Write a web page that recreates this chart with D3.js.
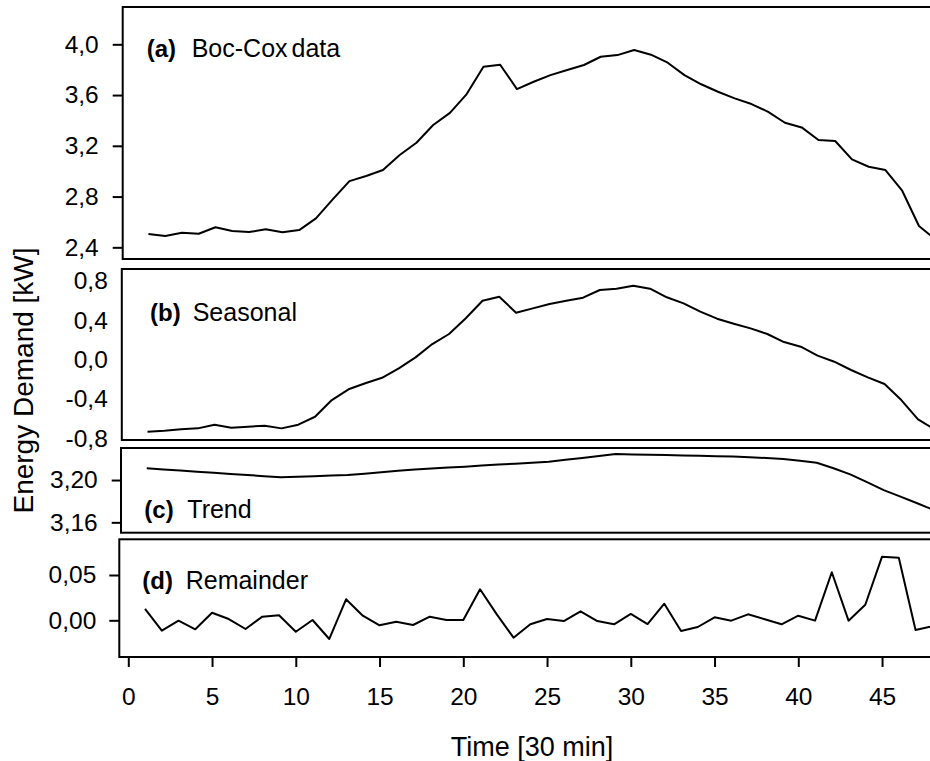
<!DOCTYPE html>
<html>
<head>
<meta charset="utf-8">
<script src="https://cdn.jsdelivr.net/npm/d3@7/dist/d3.min.js"></script>
<style>
body { margin: 0; background: #fff; }
svg { display: block; font-family: "Liberation Sans", Arial, sans-serif; }
</style>
</head>
<body>
<div id="chart-area"></div>
<script>
// time index (30 min steps)
var time = [1, 2, 3, 4, 5, 6, 7, 8, 9, 10, 11, 12, 13, 14, 15, 16, 17, 18, 19, 20, 21, 22, 23, 24,
	25, 26, 27, 28, 29, 30, 31, 32, 33, 34, 35, 36, 37, 38, 39, 40, 41, 42, 43, 44, 45, 46, 47, 48];

var boxcox = [2.505, 2.489, 2.515, 2.507, 2.558, 2.528, 2.520, 2.542, 2.518, 2.536, 2.628, 2.778,
	2.922, 2.962, 3.009, 3.128, 3.224, 3.364, 3.460, 3.608, 3.823, 3.839, 3.647, 3.705,
	3.757, 3.797, 3.837, 3.902, 3.915, 3.955, 3.918, 3.855, 3.757, 3.685, 3.626, 3.574,
	3.529, 3.468, 3.382, 3.345, 3.246, 3.238, 3.093, 3.035, 3.009, 2.846, 2.568, 2.460];

var seasonal = [-0.731, -0.721, -0.707, -0.697, -0.660, -0.690, -0.680, -0.670, -0.697, -0.660, -0.579, -0.410,
	-0.301, -0.240, -0.184, -0.088, 0.023, 0.158, 0.260, 0.419, 0.597, 0.638, 0.476, 0.520,
	0.564, 0.597, 0.628, 0.706, 0.719, 0.750, 0.719, 0.632, 0.571, 0.486, 0.415, 0.364,
	0.317, 0.260, 0.178, 0.131, 0.040, -0.021, -0.105, -0.180, -0.247, -0.410, -0.605, -0.710];

var trend = [3.2111, 3.2100, 3.2090, 3.2079, 3.2069, 3.2058, 3.2047, 3.2037, 3.2026, 3.2031, 3.2036, 3.2042,
	3.2047, 3.2060, 3.2073, 3.2087, 3.2100, 3.2110, 3.2118, 3.2126, 3.2137, 3.2148, 3.2155, 3.2164,
	3.2173, 3.2191, 3.2209, 3.2228, 3.2246, 3.2242, 3.2238, 3.2236, 3.2233, 3.2230, 3.2226, 3.2222,
	3.2216, 3.2208, 3.2199, 3.2183, 3.2164, 3.2112, 3.2054, 3.1980, 3.1905, 3.1843, 3.1780, 3.1716];

var remainder = [0.0125, -0.0115, -0.0004, -0.0099, 0.0084, 0.0014, -0.0096, 0.0040, 0.0055, -0.0126, 0.0003, -0.0206,
	0.0232, 0.0051, -0.0055, -0.0015, -0.0052, 0.0040, 0.0003, 0.0003, 0.0342, 0.0066, -0.0192, -0.0044,
	0.0014, -0.0008, 0.0099, -0.0008, -0.0044, 0.0070, -0.0041, 0.0183, -0.0118, -0.0074, 0.0033, -0.0004,
	0.0066, 0.0011, -0.0044, 0.0051, -0.0004, 0.0530, -0.0004, 0.0172, 0.0702, 0.0691, -0.0107, -0.0065];

var ticksA = [2.4, 2.8, 3.2, 3.6, 4.0];
var ticksB = [-0.8, -0.4, 0.0, 0.4, 0.8];
var ticksC = [3.16, 3.20];
var ticksD = [0.00, 0.05];
var ticksX = [0, 5, 10, 15, 20, 25, 30, 35, 40, 45];

var width = 930;
var height = 761;

var svg = d3.select("#chart-area")
	.append("svg")
	.attr("width", width)
	.attr("height", height);

var x = d3.scaleLinear()
	.domain([-0.537, 49])
	.range([119.3, 119.3 + 49.537 * 16.75]);

function fmt(digits) {
	return (d) => d3.format("." + digits + "f")(d).replace(".", ",").replace("\u2212", "-");
}

var panels = [
	{tag: "(a)", name: "Boc-Cox data", values: boxcox, ticks: ticksA, digits: 1,
		top: 7, bottom: 259, dx: 3.4, domain: [2.308, 4.294], tickSize: 10, pad: 14,
		tagX: 24, nameX: 69, labelY: 49.7},
	{tag: "(b)", name: "Seasonal", values: seasonal, ticks: ticksB, digits: 1,
		top: 269, bottom: 440, dx: 2.5, domain: [-0.815, 0.919], tickSize: 0, pad: 14,
		tagX: 28.2, nameX: 70.9, labelY: 52},
	{tag: "(c)", name: "Trend", values: trend, ticks: ticksC, digits: 2,
		top: 448, bottom: 532.7, dx: 1.7, domain: [3.1502, 3.2303], tickSize: 9.3, pad: 14,
		tagX: 23.3, nameX: 66.3, labelY: 70.3},
	{tag: "(d)", name: "Remainder", values: remainder, ticks: ticksD, digits: 2,
		top: 539.3, bottom: 657, dx: 0, domain: [-0.0405, 0.0894], tickSize: 10, pad: 13,
		tagX: 23, nameX: 66.4, labelY: 50}
];

panels.forEach((p) => {
	var g = svg.append("g")
		.attr("transform", "translate(" + p.dx + ",0)");

	var y = d3.scaleLinear()
		.domain(p.domain)
		.range([p.bottom, p.top]);

	var line = d3.line()
		.x((d, i) => x(time[i]))
		.y((d) => y(d));

	g.append("path")
		.datum(p.values)
		.attr("fill", "none")
		.attr("stroke", "#000")
		.attr("stroke-width", 2)
		.attr("stroke-linejoin", "round")
		.attr("d", line);

	var yAxis = g.append("g")
		.attr("transform", "translate(" + x.range()[0] + ",0)")
		.call(d3.axisLeft(y)
			.tickValues(p.ticks)
			.tickSize(p.tickSize)
			.tickPadding(p.pad)
			.tickFormat(fmt(p.digits)));
	yAxis.select(".domain").remove();
	yAxis.selectAll("line").attr("stroke", "#000").attr("stroke-width", 2);
	yAxis.selectAll("text")
		.attr("fill", "#000")
		.attr("font-size", "24.5px")
		.attr("font-family", "'Liberation Sans', Arial, sans-serif");

	g.append("rect")
		.attr("x", x.range()[0])
		.attr("y", p.top)
		.attr("width", x.range()[1] - x.range()[0])
		.attr("height", p.bottom - p.top)
		.attr("fill", "none")
		.attr("stroke", "#000")
		.attr("stroke-width", 2);

	g.append("text")
		.attr("x", x.range()[0] + p.tagX)
		.attr("y", p.top + p.labelY)
		.attr("font-size", "24px")
		.attr("font-weight", "bold")
		.text(p.tag);

	g.append("text")
		.attr("x", x.range()[0] + p.nameX)
		.attr("y", p.top + p.labelY)
		.attr("font-size", "25px")
		.attr("word-spacing", "-3px")
		.text(p.name);
});

// bottom axis under the remainder panel
var bottom = panels[3].bottom;
var xAxis = svg.append("g")
	.attr("transform", "translate(0," + bottom + ")")
	.call(d3.axisBottom(x)
		.tickValues(ticksX)
		.tickSize(10)
		.tickPadding(21)
		.tickFormat(d3.format("d")));
xAxis.select(".domain").remove();
xAxis.selectAll("line").attr("stroke", "#000").attr("stroke-width", 2);
xAxis.selectAll("text")
	.attr("fill", "#000")
	.attr("font-size", "24.5px")
	.attr("font-family", "'Liberation Sans', Arial, sans-serif");

svg.append("text")
	.attr("x", 532)
	.attr("y", 756)
	.attr("font-size", "27px")
	.attr("text-anchor", "middle")
	.text("Time [30 min]");

svg.append("text")
	.attr("transform", "translate(32.7,380.5) rotate(-90)")
	.attr("font-size", "28px")
	.attr("text-anchor", "middle")
	.text("Energy Demand [kW]");
</script>
</body>
</html>
